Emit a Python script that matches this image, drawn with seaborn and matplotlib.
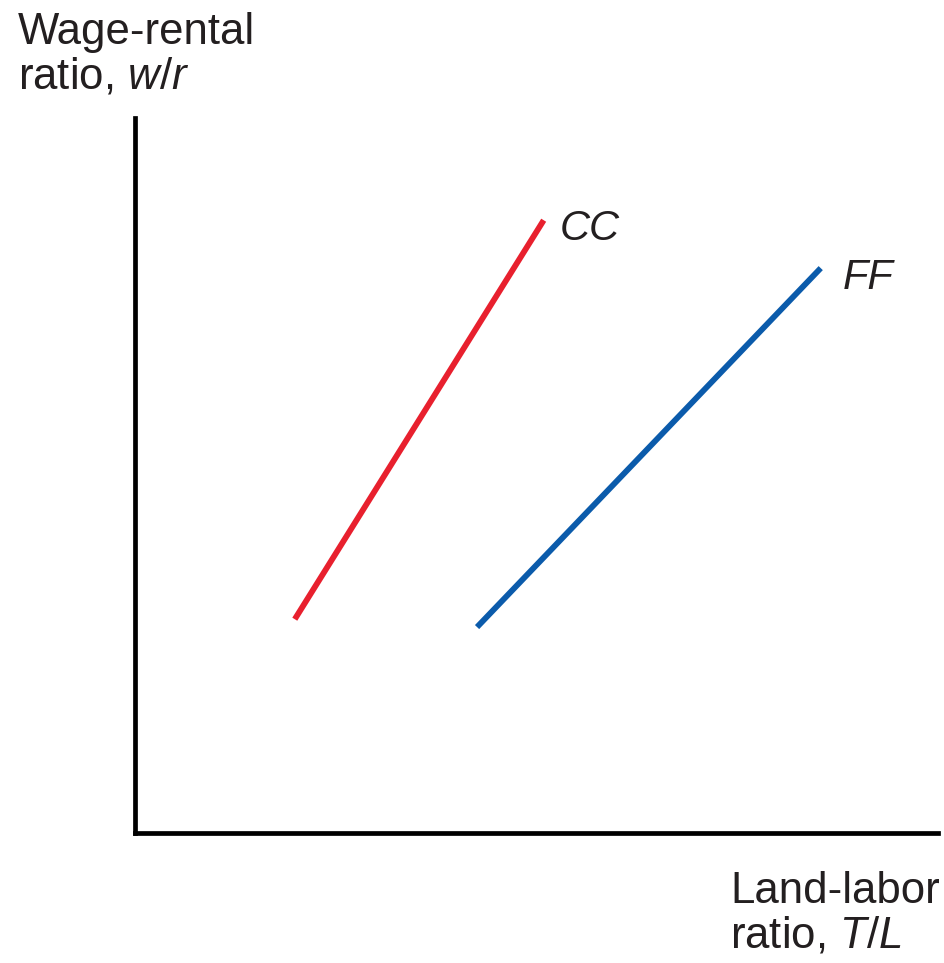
"""Wage-rental ratio vs land-labor ratio: CC and FF curves."""
import matplotlib
matplotlib.use("Agg")
import matplotlib.pyplot as plt
import pandas as pd
import seaborn as sns

# 곡선 끝점 (x: T/L, y: w/r, 축 범위 0~10)
cc_x = [1.99, 5.09]
cc_y = [2.99, 8.57]
ff_x = [4.26, 8.54]
ff_y = [2.88, 7.90]
curve_names = ["CC", "FF"]
curve_colors = ["#e8202e", "#0b5bab"]

sns.set_theme(style="white")
plt.rcParams["font.family"] = ["Liberation Sans", "DejaVu Sans"]
plt.rcParams["mathtext.fontset"] = "custom"
plt.rcParams["mathtext.it"] = "Liberation Sans:italic"
plt.rcParams["mathtext.rm"] = "Liberation Sans"

df = pd.DataFrame({
    "x": cc_x + ff_x,
    "y": cc_y + ff_y,
    "curve": [curve_names[0]] * len(cc_x) + [curve_names[1]] * len(ff_x),
})

fig = plt.figure(figsize=(9.44, 9.63), dpi=100)
ax = fig.add_axes([0.143, 0.135, 0.8506, 0.7425])

sns.lineplot(data=df, x="x", y="y", hue="curve", palette=curve_colors,
             linewidth=4.2, legend=False, ax=ax, solid_capstyle="butt")

ax.set_xlim(0, 10)
ax.set_ylim(0, 10)
ax.set_xticks([])
ax.set_yticks([])
ax.set_xlabel("")
ax.set_ylabel("")
sns.despine(ax=ax)
for side in ["left", "bottom"]:
    ax.spines[side].set_linewidth(3.4)
    ax.spines[side].set_color("black")
    ax.spines[side].set_capstyle("projecting")

# 곡선 이름
ax.text(cc_x[-1] + 0.2, cc_y[-1] - 0.12, curve_names[0], fontsize=30, style="italic",
        ha="left", va="center", color="#231f20")
ax.text(ff_x[-1] + 0.27, ff_y[-1] - 0.14, curve_names[1], fontsize=30, style="italic",
        ha="left", va="center", color="#231f20")

# 축 제목
fig.text(18 / 944, 1 - 12 / 963, "Wage-rental\nratio, $\\mathit{w/r}$", fontsize=31.5,
         ha="left", va="top", linespacing=1.1, color="#231f20")
fig.text(730 / 944, 1 - 871 / 963, "Land-labor\nratio, $\\mathit{T/L}$", fontsize=31.5,
         ha="left", va="top", linespacing=1.1, color="#231f20")

fig.savefig("out.png", dpi=100)
